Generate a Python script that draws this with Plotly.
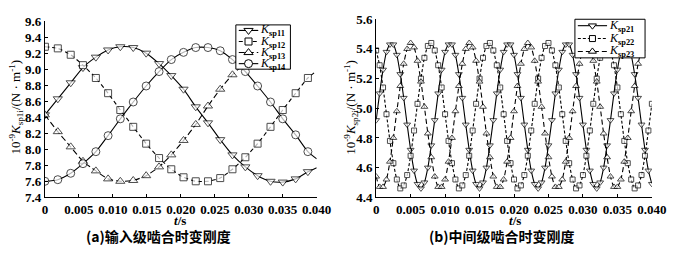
import plotly.graph_objects as go

# ---------------- data: panel (a) ----------------
t_a = [0, 0.0019, 0.0038, 0.0056, 0.0075, 0.0093, 0.0111, 0.0130, 0.0149, 0.0168,
       0.0186, 0.0204, 0.0222, 0.0240, 0.0258, 0.0276, 0.0295, 0.0313, 0.0332, 0.0350,
       0.0369, 0.0387, 0.0400]
k_sp11 = [8.43, 8.63, 8.83, 9.02, 9.15, 9.24, 9.28, 9.27, 9.20, 9.07, 8.92, 8.75, 8.53,
          8.33, 8.12, 7.93, 7.78, 7.67, 7.60, 7.59, 7.63, 7.72, 7.77]
k_sp12 = [9.28, 9.26, 9.18, 9.05, 8.89, 8.70, 8.49, 8.28, 8.07, 7.89, 7.75, 7.65, 7.60,
          7.60, 7.64, 7.75, 7.90, 8.07, 8.28, 8.49, 8.70, 8.89, 8.98]
k_sp13 = [8.43, 8.22, 8.03, 7.85, 7.73, 7.63, 7.60, 7.61, 7.67, 7.78, 7.93, 8.11, 8.31,
          8.54, 8.75, 8.93, 9.08]
k_sp14 = [7.60, 7.62, 7.70, 7.82, 7.97, 8.17, 8.38, 8.59, 8.79, 8.97, 9.12, 9.21, 9.27,
          9.27, 9.23, 9.12, 8.97, 8.79, 8.59, 8.38, 8.18, 7.97, 7.88]

# ---------------- data: panel (b) ----------------
t_b = [round(i * 0.0005, 4) for i in range(81)]
k_sp21 = [4.92, 5.10, 5.26, 5.38, 5.43, 5.43, 5.36, 5.23, 5.07, 4.89, 4.72, 4.58, 4.49, 4.46, 4.50, 4.60, 4.75,
          4.92, 5.10, 5.26, 5.38, 5.43, 5.43, 5.36, 5.23, 5.07, 4.89, 4.72, 4.58, 4.49, 4.46, 4.50, 4.60, 4.75,
          4.92, 5.10, 5.26, 5.38, 5.43, 5.43, 5.36, 5.23, 5.07, 4.89, 4.72, 4.58, 4.49, 4.46, 4.50, 4.60, 4.75,
          4.92, 5.10, 5.26, 5.38, 5.43, 5.43, 5.36, 5.23, 5.07, 4.89, 4.72, 4.58, 4.49, 4.46, 4.50, 4.60, 4.75,
          4.92, 5.10, 5.26, 5.38, 5.43, 5.43, 5.36, 5.23, 5.07, 4.89, 4.72, 4.58, 4.49]
k_sp22 = [5.39, 5.29, 5.14, 4.96, 4.78, 4.63, 4.52, 4.46, 4.48, 4.55, 4.68, 4.85, 5.03, 5.20, 5.34, 5.42, 5.44,
          5.39, 5.29, 5.14, 4.96, 4.78, 4.63, 4.52, 4.46, 4.48, 4.55, 4.68, 4.85, 5.03, 5.20, 5.34, 5.42, 5.44,
          5.39, 5.29, 5.14, 4.96, 4.78, 4.63, 4.52, 4.46, 4.48, 4.55, 4.68, 4.85, 5.03, 5.20, 5.34, 5.42, 5.44,
          5.39, 5.29, 5.14, 4.96, 4.78, 4.63, 4.52, 4.46, 4.48, 4.55, 4.68, 4.85, 5.03, 5.20, 5.34, 5.42, 5.44,
          5.39, 5.29, 5.14, 4.96, 4.78, 4.63, 4.52, 4.46, 4.48, 4.55, 4.68, 4.85, 5.03]
k_sp23 = [4.54, 4.47, 4.47, 4.52, 4.64, 4.80, 4.98, 5.15, 5.30, 5.40, 5.44, 5.41, 5.32, 5.18, 5.01, 4.83, 4.67,
          4.54, 4.47, 4.47, 4.52, 4.64, 4.80, 4.98, 5.15, 5.30, 5.40, 5.44, 5.41, 5.32, 5.18, 5.01, 4.83, 4.67,
          4.54, 4.47, 4.47, 4.52, 4.64, 4.80, 4.98, 5.15, 5.30, 5.40, 5.44, 5.41, 5.32, 5.18, 5.01, 4.83, 4.67,
          4.54, 4.47, 4.47, 4.52, 4.64, 4.80, 4.98, 5.15, 5.30, 5.40, 5.44, 5.41, 5.32, 5.18, 5.01, 4.83, 4.67,
          4.54, 4.47, 4.47, 4.52, 4.64, 4.80, 4.98, 5.15, 5.30, 5.40]

x_ticks = [0, 0.005, 0.010, 0.015, 0.020, 0.025, 0.030, 0.035, 0.040]
x_tick_text = ["0", "0.005", "0.010", "0.015", "0.020", "0.025", "0.030", "0.035", "0.040"]

names_a = ["sp11", "sp12", "sp13", "sp14"]
names_b = ["sp21", "sp22", "sp23"]

SERIF = "Liberation Serif"
W, H = 700, 259

fig = go.Figure()

STYLE = {
    "sp11": ("triangle-down", "solid", 8),
    "sp12": ("square", "4px,3px", 7),
    "sp13": ("triangle-up", "6px,3px", 8),
    "sp14": ("circle", "solid", 8),
    "sp21": ("triangle-down", "solid", 6),
    "sp22": ("square", "3px,2px", 5),
    "sp23": ("triangle-up", "5px,3px", 6),
}


def add(x, y, key, xa, ya, last_marker=True):
    symbol, dash, msize = STYLE[key]
    sizes = [msize] * len(y)
    if not last_marker:
        sizes[-1] = 0
    fig.add_trace(go.Scatter(
        x=x, y=y, mode="lines+markers", showlegend=False, hoverinfo="skip",
        line=dict(color="black", width=1.1, dash=dash, shape="spline", smoothing=0.6),
        marker=dict(symbol=symbol, size=sizes, color="white",
                    line=dict(color="black", width=1)),
        xaxis=xa, yaxis=ya))


add(t_a, k_sp11, "sp11", "x", "y", False)
add(t_a, k_sp12, "sp12", "x", "y", False)
add(t_a, k_sp13, "sp13", "x", "y", True)
add(t_a, k_sp14, "sp14", "x", "y", False)

add(t_b, k_sp21, "sp21", "x2", "y2")
add(t_b, k_sp22, "sp22", "x2", "y2")
add(t_b, k_sp23, "sp23", "x2", "y2")


# ---------- compact legends drawn on a pixel overlay (x3/y3) ----------
def legend_box(x0, y0, x1, y1, keys, sx0, sx1, tx, msize_add=0):
    fig.add_trace(go.Scatter(
        x=[x0, x1, x1, x0, x0], y=[y0, y0, y1, y1, y0], mode="lines",
        fill="toself", fillcolor="white", line=dict(color="black", width=1),
        showlegend=False, hoverinfo="skip", xaxis="x3", yaxis="y3"))
    n = len(keys)
    step = (y1 - y0) / n
    for i, key in enumerate(keys):
        symbol, dash, msize = STYLE[key]
        yc = y0 + step * (i + 0.5)
        fig.add_trace(go.Scatter(
            x=[sx0, sx1], y=[yc, yc], mode="lines",
            line=dict(color="black", width=1.1, dash=dash),
            showlegend=False, hoverinfo="skip", xaxis="x3", yaxis="y3"))
        fig.add_trace(go.Scatter(
            x=[(sx0 + sx1) / 2], y=[yc], mode="markers",
            marker=dict(symbol=symbol, size=msize + msize_add, color="white",
                        line=dict(color="black", width=1)),
            showlegend=False, hoverinfo="skip", xaxis="x3", yaxis="y3"))
        fig.add_annotation(x=tx, y=yc, xref="x3", yref="y3", showarrow=False,
                           xanchor="left", yanchor="middle",
                           text="<i>K</i><sub><b>" + key + "</b></sub>",
                           font=dict(family=SERIF, size=12, color="black"))


legend_box(239, 19, 295, 66, names_a, 242, 262, 262)
legend_box(587, 13, 659, 54, names_b, 590, 620, 620, 1)

axis_common = dict(showline=True, linecolor="black", linewidth=1, showgrid=False,
                   zeroline=False, ticks="inside", ticklen=3, tickcolor="black",
                   tickfont=dict(family=SERIF, size=13, color="black", weight="bold"),
                   mirror=False)

fig.update_layout(
    width=W, height=H, margin=dict(l=0, r=0, t=0, b=0),
    paper_bgcolor="white", plot_bgcolor="rgba(0,0,0,0)", showlegend=False,
    xaxis=dict(domain=[43 / W, 322 / W], range=[0, 0.04], tickvals=x_ticks,
               ticktext=x_tick_text, anchor="y", **axis_common),
    yaxis=dict(domain=[1 - 202 / H, 1 - 15 / H], range=[7.4, 9.6], dtick=0.2,
               tick0=7.4, tickformat=".1f", anchor="x", **axis_common),
    xaxis2=dict(domain=[383 / W, 666 / W], range=[0, 0.04], tickvals=x_ticks,
                ticktext=x_tick_text, anchor="y2", **axis_common),
    yaxis2=dict(domain=[1 - 202 / H, 1 - 13 / H], range=[4.4, 5.6], dtick=0.2,
                tick0=4.4, tickformat=".1f", anchor="x2", **axis_common),
    xaxis3=dict(domain=[0, 1], range=[0, W], visible=False, anchor="y3", fixedrange=True),
    yaxis3=dict(domain=[0, 1], range=[H, 0], visible=False, anchor="x3", fixedrange=True),
)

annots = [
    dict(x=13 / W, y=1 - 106 / H, text="10<sup>-9</sup><i>K</i><sub>sp1i</sub>/(N · m<sup>-1</sup>)",
         textangle=-90, font=dict(family=SERIF, size=13, color="black")),
    dict(x=357 / W, y=1 - 106 / H, text="10<sup>-9</sup><i>K</i><sub>sp2i</sub>/(N · m<sup>-1</sup>)",
         textangle=-90, font=dict(family=SERIF, size=13, color="black")),
    dict(x=182 / W, y=1 - 227 / H, text="<i>t</i>/s",
         font=dict(family=SERIF, size=13, color="black", weight="bold")),
    dict(x=525 / W, y=1 - 227 / H, text="<i>t</i>/s",
         font=dict(family=SERIF, size=13, color="black", weight="bold")),
    dict(x=160 / W, y=1 - 243 / H, text="(a)输入级啮合时变刚度",
         font=dict(family="Noto Sans CJK SC", size=14, color="black", weight="bold")),
    dict(x=512 / W, y=1 - 243 / H, text="(b)中间级啮合时变刚度",
         font=dict(family="Noto Sans CJK SC", size=14, color="black", weight="bold")),
]
for a in annots:
    fig.add_annotation(xref="paper", yref="paper", showarrow=False,
                       xanchor="center", yanchor="middle", **a)

fig.write_html("out.html")
